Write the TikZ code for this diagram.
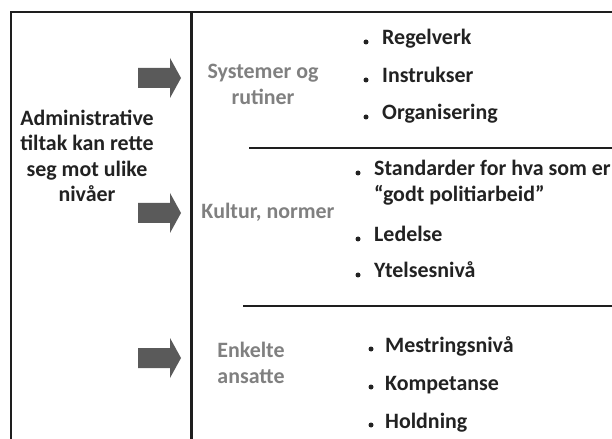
\documentclass[tikz,border=0pt]{standalone}
\usepackage{fontspec}
\setmainfont{Carlito}
\definecolor{txt}{HTML}{222222}
\definecolor{lbl}{HTML}{808080}
\definecolor{arrowgray}{HTML}{5A5A5A}
\definecolor{rulegray}{HTML}{1E1E1E}
\begin{document}
\begin{tikzpicture}[x=1bp,y=-1bp,
  rule/.style={line width=2.1bp, draw=rulegray},
  item/.style={font=\fontsize{22}{25}\selectfont\bfseries, text=txt, inner sep=0, anchor=base west},
  level/.style={font=\fontsize{22}{26}\selectfont\bfseries, text=lbl, inner sep=0, align=center},
  bigarrow/.style={fill=arrowgray, draw=none},
  dot/.style={circle, fill=txt, inner sep=0, minimum size=5bp}]
\useasboundingbox (0,0) rectangle (612,439);
\fill[white] (0,0) rectangle (612,439);
% frame and dividers
\coordinate (tl) at (11,12);
\coordinate (tr) at (612,12);
\coordinate (bl) at (11,439);
\coordinate (dt) at (191.5,12);
\coordinate (db) at (191.5,439);
\coordinate (h1a) at (249,148);
\coordinate (h1b) at (612,148);
\coordinate (h2a) at (243,306);
\coordinate (h2b) at (612,306);
\draw[rule] (bl) -- (tl) -- (tr);
\draw[rule, line width=2.6bp] (dt) -- (db);
\draw[rule] (h1a) -- (h1b);
\draw[rule] (h2a) -- (h2b);
% left text
\node[font=\fontsize{22}{25.4}\selectfont\bfseries, text=txt, inner sep=0, align=center] (main) at (87,156)
  {Administrative\\tiltak kan rette\\seg mot ulike\\nivåer};
% arrows
\foreach \n/\y in {a1/78, a2/213, a3/358}{
  \fill[bigarrow] (138,\y-10) -- (170,\y-10) -- (170,\y-20) -- (181,\y) -- (170,\y+20) -- (170,\y+10) -- (138,\y+10) -- cycle;
}
% level labels
\node[level] (sys) at (263,84) {Systemer og\\rutiner};
\node[level, anchor=base] (kul) at (268,219) {Kultur, normer};
\node[level] (enk) at (251,363) {Enkelte\\ansatte};
% bullet items
\node[item] (i1) at (382,45) {Regelverk};
\node[item] (i2) at (382,83) {Instrukser};
\node[item] (i3) at (382,120) {Organisering};
\node[item] (i4) at (374,176) {Standarder for hva som er};
\node[item] (i4b) at (374,202) {“godt politiarbeid”};
\node[item] (i5) at (374,242) {Ledelse};
\node[item] (i6) at (374,278) {Ytelsesnivå};
\node[item] (i7) at (385,352) {Mestringsnivå};
\node[item] (i8) at (385,390) {Kompetanse};
\node[item] (i9) at (385,428) {Holdning};
\foreach \x/\y/\n in {366/45/d1, 366/83/d2, 366/120/d3, 358/176/d4, 358/242/d5, 358/278/d6, 371/352/d7, 371/390/d8, 371/428/d9}{
  \node[dot] (\n) at (\x,\y-3) {};
}
\end{tikzpicture}
\end{document}
